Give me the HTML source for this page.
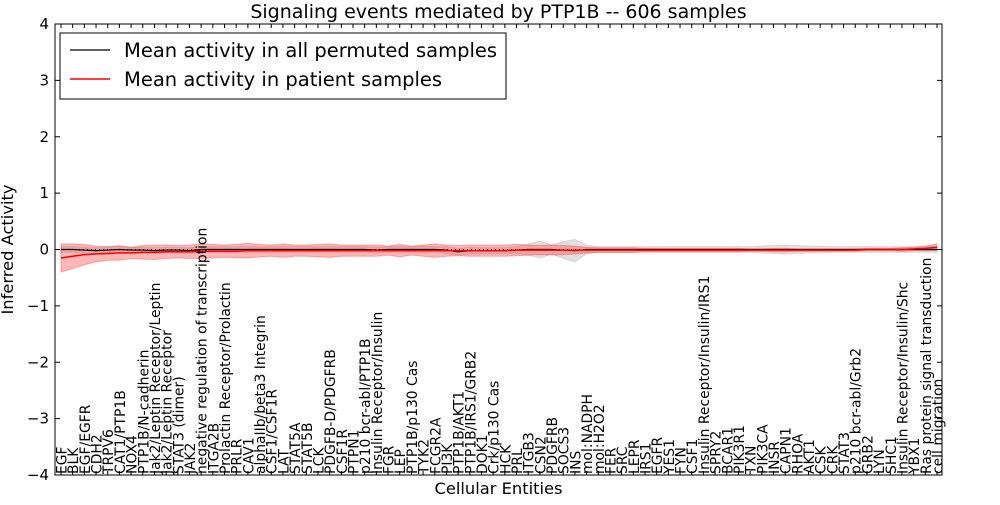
<!DOCTYPE html>
<html><head><meta charset="utf-8"><style>
body{margin:0;background:#fff;width:1000px;height:500px;overflow:hidden}
svg{font-family:"DejaVu Sans","Liberation Sans",sans-serif}
</style></head><body>
<svg id="chart" width="1000" height="500"></svg>
<script>
const categories=["EGF","BLK","EGF/EGFR","CDH2","TRPV6","CAT1/PTP1B","NOX4","PTP1B/N-cadherin","Jak2/Leptin Receptor/Leptin","Jak2/Leptin Receptor","STAT3 (dimer)","JAK2","negative regulation of transcription","ITGA2B","Prolactin Receptor/Prolactin","PRLR","CAV1","alphaIIb/beta3 Integrin","CSF1/CSF1R","LAT","STAT5A","STAT5B","LCK","PDGFB-D/PDGFRB","CSF1R","PTPN1","p210 bcr-abl/PTP1B","Insulin Receptor/Insulin","FGR","LEP","PTP1B/p130 Cas","TYK2","FCGR2A","PI3K","PTP1B/AKT1","PTP1B/IRS1/GRB2","DOK1","Crk/p130 Cas","HCK","PRL","ITGB3","CSN2","PDGFRB","SOCS3","INS","mol:NADPH","mol:H2O2","FER","SRC","LEPR","IRS1","EGFR","YES1","FYN","CSF1","Insulin Receptor/Insulin/IRS1","SPRY2","BCAR1","PIK3R1","TXN","PIK3CA","INSR","CAPN1","RHOA","AKT1","CSK","CRK","STAT3","p210 bcr-abl/Grb2","GRB2","LYN","SHC1","Insulin Receptor/Insulin/Shc","YBX1","Ras protein signal transduction","cell migration"];
const patientMean=[-0.15,-0.12,-0.09,-0.08,-0.07,-0.06,-0.06,-0.05,-0.05,-0.04,-0.04,-0.04,-0.03,-0.03,-0.03,-0.03,-0.02,-0.02,-0.02,-0.02,-0.02,-0.02,-0.02,-0.02,-0.02,-0.02,-0.02,-0.02,-0.02,-0.02,-0.02,-0.02,-0.02,-0.02,-0.02,-0.02,-0.02,-0.02,-0.02,-0.01,-0.01,-0.01,-0.01,-0.01,-0.01,-0.01,-0.01,-0.01,-0.01,-0.01,-0.01,-0.01,-0.01,-0.01,-0.01,-0.01,-0.01,-0.01,-0.01,-0.01,-0.01,-0.01,-0.01,-0.01,-0.01,-0.01,-0.01,-0.01,-0.01,0,0,0,0,0.01,0.02,0.04];
const patientSpread=[0.25,0.22,0.18,0.14,0.12,0.13,0.1,0.12,0.13,0.12,0.11,0.12,0.13,0.12,0.11,0.12,0.13,0.11,0.1,0.12,0.1,0.1,0.11,0.12,0.1,0.1,0.1,0.1,0.08,0.11,0.08,0.1,0.12,0.1,0.09,0.1,0.1,0.1,0.1,0.1,0.09,0.08,0.09,0.08,0.07,0.05,0.04,0.04,0.04,0.04,0.03,0.03,0.03,0.03,0.03,0.03,0.03,0.03,0.03,0.02,0.02,0.03,0.03,0.02,0.02,0.02,0.02,0.02,0.02,0.02,0.02,0.02,0.03,0.03,0.04,0.06];
const permMean=[0,0,-0.01,-0.02,-0.01,0,-0.01,-0.01,-0.02,-0.01,-0.01,-0.02,0,0,0,0,0,0,0,0,0,0,0,0,0,0,0,-0.01,0,0,0,0,0,-0.01,-0.04,-0.02,-0.02,-0.02,-0.02,-0.01,0,0,0,-0.01,-0.02,0,0,0,0,0,0,0,0,0,0,0,0,0,0,0,0,0,0,0,0,0,0,0,0,0,0,0,0,0,0,0];
const permSpread=[0.05,0.05,0.05,0.05,0.05,0.05,0.05,0.05,0.05,0.05,0.05,0.05,0.05,0.05,0.05,0.05,0.05,0.05,0.05,0.05,0.05,0.05,0.05,0.05,0.05,0.05,0.05,0.05,0.05,0.05,0.05,0.06,0.05,0.06,0.06,0.06,0.05,0.05,0.05,0.06,0.1,0.15,0.08,0.15,0.2,0.08,0.05,0.05,0.05,0.05,0.05,0.05,0.05,0.05,0.05,0.05,0.05,0.05,0.05,0.05,0.06,0.07,0.08,0.07,0.06,0.06,0.05,0.05,0.05,0.05,0.05,0.05,0.05,0.05,0.05,0.05];
const yTicks=[-4,-3,-2,-1,0,1,2,3,4];

const NS="http://www.w3.org/2000/svg";
const svg=document.getElementById('chart');
const L=55,R=942,T=24,B=475;
const x0=61,x1=937;
const xs=i=>x0+(x1-x0)*i/(categories.length-1);
const ys=v=>T+(4-v)*(B-T)/8;
function mk(tag,attrs,parent){const e=document.createElementNS(NS,tag);for(const k in attrs)e.setAttribute(k,attrs[k]);(parent||svg).appendChild(e);return e;}
function band(mean,spread,fill,op){
  let d='';mean.forEach((m,i)=>{d+=(i?'L':'M')+xs(i)+','+ys(m+spread[i]);});
  for(let i=mean.length-1;i>=0;i--)d+='L'+xs(i)+','+ys(mean[i]-spread[i]);
  return mk('path',{d:d+'Z',fill:fill,'fill-opacity':op,stroke:fill,'stroke-opacity':op});
}
function line(mean,color,w,dash){let d='';mean.forEach((m,i)=>{d+=(i?'L':'M')+xs(i)+','+ys(m);});const a={d:d,fill:'none',stroke:color,'stroke-width':w};if(dash)a['stroke-dasharray']=dash;return mk('path',a);}

const gb=band(permMean,permSpread,'#bbbbbb',0.45);

const rb=band(patientMean,patientSpread,'#ff3030',0.35);

const zl=mk('line',{x1:L,x2:R,y1:ys(0),y2:ys(0),stroke:'#000','stroke-width':1,'stroke-dasharray':'1,3'});

const pl=line(permMean,'#000',1.2);

const rl=line(patientMean,'#ff0000',1.5);


const frame=mk('rect',{x:L,y:T,width:R-L,height:B-T,fill:'none',stroke:'#000','stroke-width':1});


yTicks.forEach(v=>{
  const y=ys(v);
  mk('line',{x1:L,x2:L+5,y1:y,y2:y,stroke:'#000'});
  mk('line',{x1:R,x2:R-5,y1:y,y2:y,stroke:'#000'});
  const t=mk('text',{x:L-6,y:y+5,'text-anchor':'end','font-size':15});
  t.textContent=(v<0?'\u2212':'')+Math.abs(v);
  
});
categories.forEach((c,i)=>{
  const x=xs(i);
  mk('line',{x1:x,x2:x,y1:B,y2:B-4,stroke:'#000'});
  mk('line',{x1:x,x2:x,y1:T,y2:T+4,stroke:'#000'});
  const t=mk('text',{transform:`translate(${x+5.5},${B-1}) rotate(-90)`,'font-size':13.9});
  t.textContent=c;
  
});
const title=mk('text',{x:(L+R)/2,y:18,'text-anchor':'middle','font-size':19});
title.textContent='Signaling events mediated by PTP1B -- 606 samples';

const xt=mk('text',{x:(L+R)/2,y:494,'text-anchor':'middle','font-size':16.3});
xt.textContent='Cellular Entities';

const yt=mk('text',{transform:`translate(13,${(T+B)/2}) rotate(-90)`,'text-anchor':'middle','font-size':16.3});
yt.textContent='Inferred Activity';


const lg=mk('g',{});

mk('rect',{x:60,y:33,width:446,height:66,fill:'#fff',stroke:'#000'},lg);
mk('line',{x1:70,x2:110,y1:50,y2:50,stroke:'#000','stroke-width':1.2},lg);
mk('line',{x1:70,x2:110,y1:79,y2:79,stroke:'#ff0000','stroke-width':1.5},lg);
const l1=mk('text',{x:124,y:57,'font-size':19.5},lg);l1.textContent='Mean activity in all permuted samples';

const l2=mk('text',{x:124,y:86,'font-size':19.5},lg);l2.textContent='Mean activity in patient samples';

</script>
</body></html>
